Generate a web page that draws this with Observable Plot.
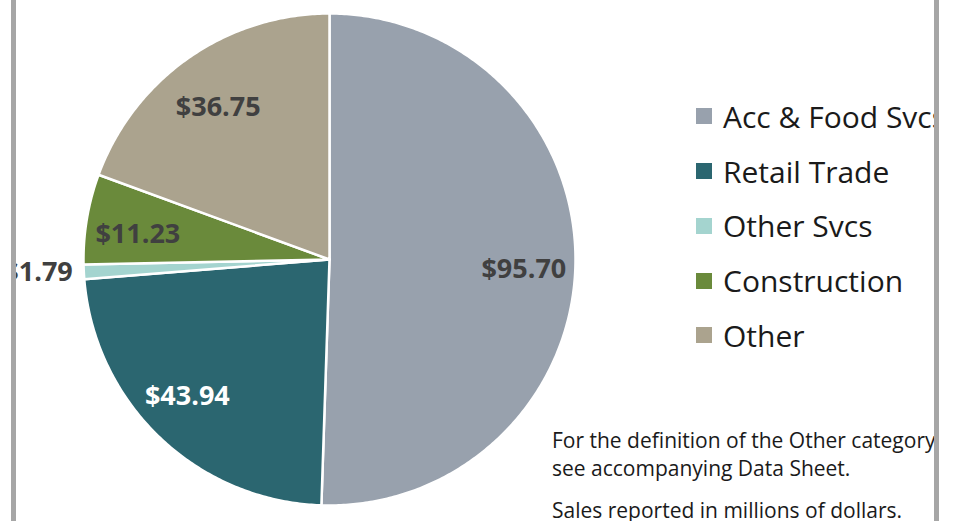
<!DOCTYPE html>
<html>
<head>
<meta charset="utf-8">
<script src="https://cdn.jsdelivr.net/npm/d3@7"></script>
<script src="https://cdn.jsdelivr.net/npm/@observablehq/plot@0.6"></script>
<style>
  html, body { margin: 0; padding: 0; background: white; }
  #wrap { position: relative; width: 959px; height: 521px; overflow: hidden; font-family: "Open Sans", sans-serif; }
  #chart { position: absolute; left: 0; top: 0; }
  .mask { position: absolute; top: 0; height: 521px; background: white; }
  .border { position: absolute; top: 0; height: 521px; background: #a6a6a6; }
  #legend { position: absolute; left: 696px; top: 89px; }
  .item { display: flex; align-items: center; height: 54.75px; font-size: 30px; color: #1a1a1a; white-space: nowrap; }
  .sw { width: 16px; height: 16px; margin-right: 11px; flex: none; }
  #note { position: absolute; left: 552px; top: 426px; font-size: 21px; color: #1a1a1a; white-space: nowrap; line-height: 28px; }
  #note p { margin: 0; }
</style>
</head>
<body>
<div id="wrap">
  <div id="chart"></div>
  <div id="legend"></div>
  <div id="note"></div>
  <div class="mask" style="left:0;width:11px"></div>
  <div class="border" style="left:11px;width:5px"></div>
  <div class="border" style="left:934px;width:5px"></div>
  <div class="mask" style="left:939px;width:20px"></div>
</div>
<script>
const categories = ["Acc & Food Svcs", "Retail Trade", "Other Svcs", "Construction", "Other"];
const legendLabels = ["Acc & Food Svcs", "Retail Trade", "Other Svcs", "Construction", "Other"];
const values = [95.70, 43.94, 1.79, 11.23, 36.75];
const colors = ["#98a1ad", "#2b6670", "#a4d4cf", "#6a8a3b", "#aba38e"];
const notes = ["For the definition of the Other category,", "see accompanying Data Sheet.", "Sales reported in millions of dollars."];

const data = categories.map((c, i) => ({category: c, value: values[i]}));
const arcs = d3.pie().sort(null).value(d => d.value)(data);

// slice outlines in unit-circle coordinates (angle measured clockwise from 12 o'clock)
const outline = [];
arcs.forEach(a => {
  const c = a.data.category;
  outline.push({category: c, x: 0, y: 0});
  const n = Math.max(4, Math.ceil((a.endAngle - a.startAngle) / 0.01));
  for (let k = 0; k <= n; k++) {
    const t = a.startAngle + (a.endAngle - a.startAngle) * k / n;
    outline.push({category: c, x: Math.sin(t), y: Math.cos(t)});
  }
  outline.push({category: c, x: 0, y: 0});
});

const labels = arcs.map(a => {
  const m = (a.startAngle + a.endAngle) / 2;
  const outside = a.data.value < 5;
  const r = outside ? 1.045 : 0.79;
  return {category: a.data.category, text: "$" + d3.format(".2f")(a.data.value),
          x: r * Math.sin(m), y: r * Math.cos(m), outside};
});

const font = {fontFamily: "Open Sans", fontSize: 27, fontWeight: 700};
const chart = Plot.plot({
  width: 959,
  height: 521,
  style: {background: "transparent", overflow: "visible"},
  x: {domain: [-1, 1], range: [83, 575], axis: null},
  y: {domain: [-1, 1], range: [505, 13], axis: null},
  color: {domain: categories, range: colors},
  marks: [
    Plot.line(outline, {x: "x", y: "y", z: "category", fill: "category", stroke: "white", strokeWidth: 2.5, strokeLinejoin: "round", curve: "linear"}),
    Plot.text(labels.filter(d => !d.outside && d.category !== "Retail Trade"), {x: "x", y: "y", text: "text", fill: "#404040", dy: 7, ...font}),
    Plot.text(labels.filter(d => d.category === "Retail Trade"), {x: "x", y: "y", text: "text", fill: "white", dy: -4, dx: -8, ...font}),
    Plot.text(labels.filter(d => d.outside), {x: "x", y: "y", text: "text", fill: "#404040", textAnchor: "end", dy: 0, ...font})
  ]
});
document.getElementById("chart").appendChild(chart);

const legend = document.getElementById("legend");
legendLabels.forEach((l, i) => {
  const item = document.createElement("div");
  item.className = "item";
  const sw = document.createElement("span");
  sw.className = "sw";
  sw.style.background = colors[i];
  const t = document.createElement("span");
  t.textContent = l;
  item.appendChild(sw);
  item.appendChild(t);
  legend.appendChild(item);
});
const note = document.getElementById("note");
notes.forEach((n, i) => {
  const p = document.createElement("p");
  p.textContent = n;
  if (i === 2) p.style.marginTop = "14px";
  note.appendChild(p);
});
</script>
</body>
</html>
